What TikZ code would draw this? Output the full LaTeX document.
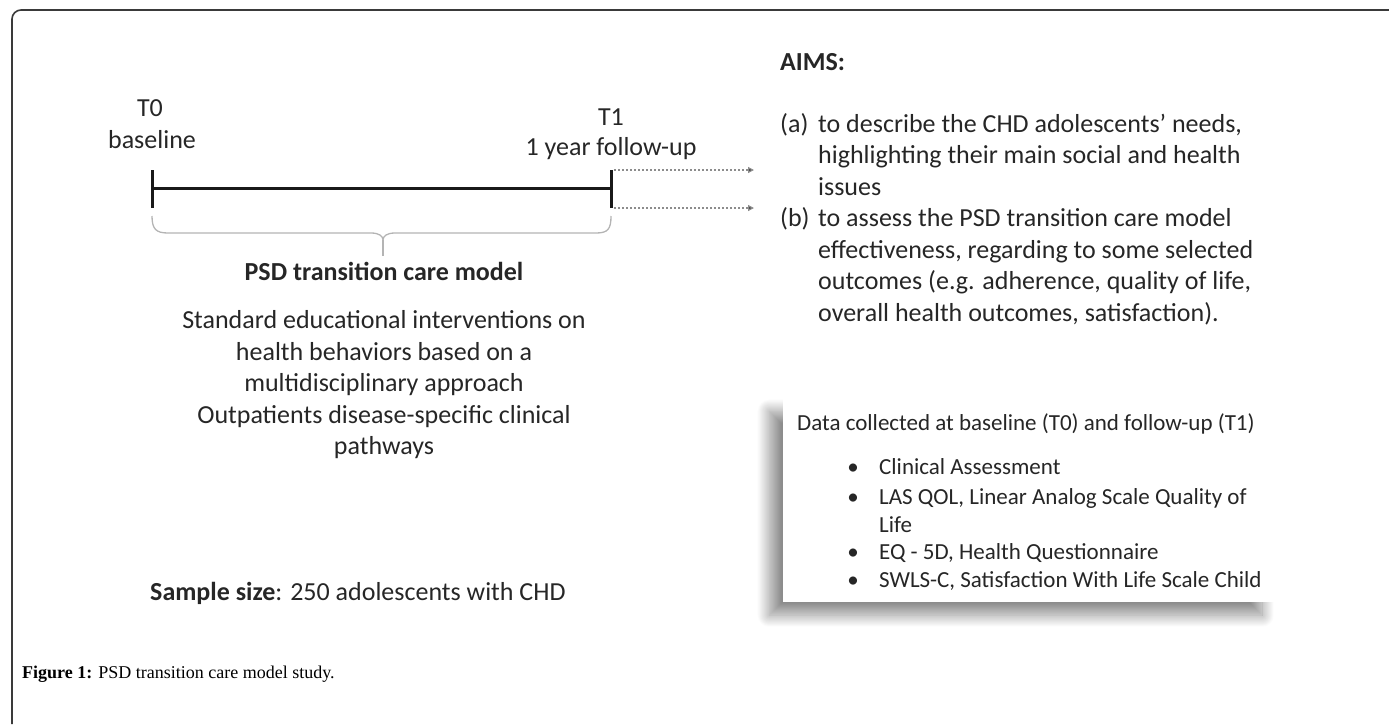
\documentclass[tikz,border=0pt]{standalone}
\usepackage{fontspec}
\setmainfont{Carlito}
\newfontfamily\capfont{Liberation Serif}
\usetikzlibrary{shadows.blur,arrows.meta}
\definecolor{ink}{HTML}{262626}
\definecolor{framec}{HTML}{3A3A3A}
\definecolor{bracec}{HTML}{B4B4B4}
\begin{document}
\begin{tikzpicture}[x=1pt,y=-1pt,
  txt/.style={inner sep=0pt,text=ink,font=\fontsize{26}{31.5}\selectfont},
  btxt/.style={inner sep=0pt,text=ink,font=\fontsize{26}{31.5}\selectfont\bfseries},
  boxtxt/.style={inner sep=0pt,text=ink,font=\fontsize{23}{28}\selectfont},
  timeline/.style={line width=3pt,draw=black!90},
  dotarrow/.style={draw=gray!90,line width=1.3pt,dash pattern=on 2pt off 2pt,-{Triangle[length=6pt,width=6pt,fill=black]}},
  bracestyle/.style={draw=bracec,line width=1.3pt},
  framestyle/.style={draw=framec,line width=1.6pt,rounded corners=9pt}]
\useasboundingbox (0,0) rectangle (1389,724);
% frame
\draw[framestyle] (12,724) -- (12,10) -- (1389,10);
% timeline
\coordinate (t0top) at (152,170);
\coordinate (t0bot) at (152,208);
\coordinate (t1top) at (611,170);
\coordinate (t1bot) at (611,208);
\coordinate (t0mid) at (152,188);
\coordinate (t1mid) at (611,188);
\draw[timeline] (t0top) -- (t0bot);
\draw[timeline] (t1top) -- (t1bot);
\draw[timeline] (t0mid) -- (t1mid);
\node[txt,anchor=base] (T0) at (150,116) {T0};
\node[txt,anchor=base] (base) at (152,148) {baseline};
\node[txt,anchor=base] (T1) at (611,125) {T1};
\node[txt,anchor=base] (fu) at (611,155) {1 year follow-up};
% dotted arrows
\coordinate (a1s) at (614,170);
\coordinate (a1e) at (754,170);
\coordinate (a2s) at (614,208);
\coordinate (a2e) at (754,208);
\draw[dotarrow] (a1s) -- (a1e);
\draw[dotarrow] (a2s) -- (a2e);
% brace
\draw[bracestyle] (152,216) .. controls (152,229) and (156,233) .. (168,233) -- (371,233)
  .. controls (379,233) and (383,236) .. (383,240)
  .. controls (383,236) and (387,233) .. (395,233) -- (596,233)
  .. controls (608,233) and (611,229) .. (611,216);
\coordinate (tip) at (383,240);
\coordinate (tipend) at (383,256);
\draw[bracestyle] (tip) -- (tipend);
% left texts
\node[btxt,anchor=base] (psd) at (384,280) {PSD transition care model};
\node[txt,anchor=base] (s1) at (384,328) {Standard educational interventions on};
\node[txt,anchor=base] (s2) at (384,360) {health behaviors based on a};
\node[txt,anchor=base] (s3) at (384,391) {multidisciplinary approach};
\node[txt,anchor=base] (s4) at (384,423) {Outpatients disease-specific clinical};
\node[txt,anchor=base] (s5) at (384,454) {pathways};
\node[txt,anchor=base west] (sample) at (150,600) {\textbf{Sample size}: 250 adolescents with CHD};
% aims
\node[btxt,anchor=base west] (aims) at (780,70) {AIMS:};
\node[txt,anchor=base west] (la) at (780,132) {(a)};
\node[txt,anchor=base west] (a1) at (818,132) {to describe the CHD adolescents' needs,};
\node[txt,anchor=base west] (a2) at (818,163) {highlighting their main social and health};
\node[txt,anchor=base west] (a3) at (818,195) {issues};
\node[txt,anchor=base west] (lb) at (780,226) {(b)};
\node[txt,anchor=base west] (b1t) at (818,226) {to assess the PSD transition care model};
\node[txt,anchor=base west] (b2t) at (818,258) {effectiveness, regarding to some selected};
\node[txt,anchor=base west] (b3t) at (818,289) {outcomes (e.g. adherence, quality of life,};
\node[txt,anchor=base west] (b4t) at (818,321) {overall health outcomes, satisfaction).};
% data box
\node[fill=white,draw=none,minimum width=493pt,minimum height=204pt,anchor=north west,inner sep=0pt,
  blur shadow={shadow xshift=-14pt,shadow yshift=-13pt,shadow blur radius=12pt,shadow blur steps=24,shadow opacity=45}] (box) at (783,398) {};
\node[boxtxt,anchor=base west] (dc) at (797,430) {Data collected at baseline (T0) and follow-up (T1)};
\node[boxtxt,anchor=base] (bu1) at (853,474) {•};
\node[boxtxt,anchor=base west] (i1) at (879,474) {Clinical Assessment};
\node[boxtxt,anchor=base] (bu2) at (853,504) {•};
\node[boxtxt,anchor=base west] (i2) at (879,504) {LAS QOL, Linear Analog Scale Quality of};
\node[boxtxt,anchor=base west] (i2b) at (879,532) {Life};
\node[boxtxt,anchor=base] (bu3) at (853,559) {•};
\node[boxtxt,anchor=base west] (i3) at (879,559) {EQ - 5D, Health Questionnaire};
\node[boxtxt,anchor=base] (bu4) at (853,587) {•};
\node[boxtxt,anchor=base west] (i4) at (879,587) {SWLS-C, Satisfaction With Life Scale Child};
% caption
\node[inner sep=0pt,anchor=base west,font=\capfont\fontsize{18}{21}\selectfont] (cap) at (22,678) {\textbf{Figure 1:} PSD transition care model study.};
\end{tikzpicture}
\end{document}
